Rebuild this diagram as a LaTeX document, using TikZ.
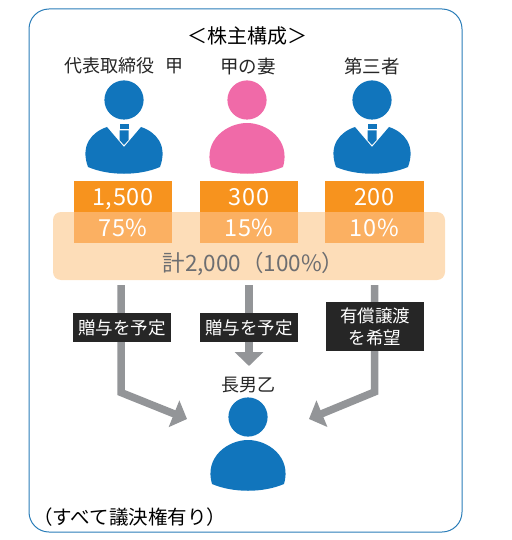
\documentclass[tikz,border=0pt]{standalone}
\usepackage{fontspec}
\setmainfont{Noto Sans CJK JP}
\usepackage{xcolor}
\usetikzlibrary{arrows.meta,positioning,calc}
\definecolor{framecol}{HTML}{2A7DB8}
\definecolor{personblue}{HTML}{1175BC}
\definecolor{personpink}{HTML}{F06AA8}
\definecolor{sharedark}{HTML}{F7931E}
\definecolor{sharelight}{HTML}{FBB062}
\definecolor{panelcol}{HTML}{FDDDB8}
\definecolor{arrowcol}{HTML}{939598}
\definecolor{totalcol}{HTML}{6D6E71}
\tikzset{
	namelabel/.style={font=\fontsize{18.5}{20}\selectfont,text=black!85,inner sep=0pt},
	sharebox/.style={minimum width=98pt,minimum height=31pt,inner sep=0pt,text=white,text height=17pt,text depth=0pt,font=\fontsize{23.5}{25}\selectfont\addfontfeature{LetterSpace=3}},
	notebox/.style={fill=black!85,text=white,minimum width=98pt,inner sep=0pt,align=center,font=\fontsize{17.5}{22}\selectfont},
	flowarrow/.style={draw=arrowcol,line width=7.5pt,-{Triangle[length=14pt,width=28pt]}},
	pics/plainperson/.style={code={
		\fill[#1] (0,0) circle (19.6);
		\fill[#1] (-36,67) .. controls (-44,40) and (-20,23) .. (0,23) .. controls (20,23) and (44,40) .. (36,67) .. controls (15,76) and (-15,76) .. (-36,67) -- cycle;
	}},
	pics/suitperson/.style={code={
		\fill[#1] (0,0) circle (19.6);
		\fill[#1] (-36,67) .. controls (-44,45) and (-32,32) .. (-17,27) -- (0,47) -- (17,27) .. controls (32,32) and (44,45) .. (36,67) .. controls (15,76) and (-15,76) .. (-36,67) -- cycle;
		\fill[#1] (-4.5,24) rectangle (4.5,29);
		\fill[#1] (-4.5,30.5) -- (4.5,30.5) -- (4.5,40) -- (0,45) -- (-4.5,40) -- cycle;
	}},
}

\begin{document}
\begin{tikzpicture}[x=1pt,y=-1pt]
	\useasboundingbox (0,0) rectangle (511,540);
	% outer frame
	\draw[framecol,line width=1pt,rounded corners=20pt] (29,9) rectangle (462,532);
	\node (title) at (247,36) {\fontsize{20}{22}\selectfont ＜株主構成＞};

	% shareholders
	\node[namelabel,font=\fontsize{18}{20}\selectfont] (nameA) at (124,66) {代表取締役\hspace{11pt}甲};
	\node[namelabel] (nameB) at (248,66) {甲の妻};
	\node[namelabel] (nameC) at (372,66) {第三者};
	\pic at (124,100) {suitperson=personblue};
	\pic at (247,100) {plainperson=personpink};
	\pic at (372,100) {suitperson=personblue};

	% share table
	\node[fill=panelcol,rounded corners=8pt,minimum width=392pt,minimum height=68pt,inner sep=0pt] (panel) at (249,246) {};
	\node[sharebox,fill=sharedark] (countA) at (123,196.5) {1,500};
	\node[sharebox,fill=sharedark] (countB) at (249,196.5) {300};
	\node[sharebox,fill=sharedark,minimum width=99pt] (countC) at (374.5,196.5) {200};
	\node[sharebox,fill=sharelight,below=0pt of countA] (rateA) {75\%};
	\node[sharebox,fill=sharelight,below=0pt of countB] (rateB) {15\%};
	\node[sharebox,fill=sharelight,minimum width=99pt,below=0pt of countC] (rateC) {10\%};
	\node[text=totalcol,font=\fontsize{22.5}{24}\selectfont,inner sep=0pt] (total) at (253.5,264) {計2,000（100\%）};

	% arrows
	\coordinate (startA) at (121,285);
	\coordinate (startB) at (249,285);
	\coordinate (startC) at (374.5,285);
	\coordinate (bendA) at (121,392.5);
	\coordinate (bendC) at (374.5,392);
	\coordinate (endA) at (187,419);
	\coordinate (endB) at (249,366);
	\coordinate (endC) at (309,419);
	\draw[flowarrow] (startA) -- (bendA) -- (endA);
	\draw[flowarrow] (startB) -- (endB);
	\draw[flowarrow] (startC) -- (bendC) -- (endC);
	\node[notebox,minimum height=29pt] (giftA) at (122,327.5) {贈与を予定};
	\node[notebox,minimum height=29pt] (giftB) at (249,327.5) {贈与を予定};
	\node[notebox,minimum height=49pt] (saleC) at (375,326.5) {有償譲渡\\を希望};

	% eldest son
	\node[namelabel,font=\fontsize{18}{20}\selectfont] (nameD) at (248,385) {長男乙};
	\pic at (248,417) {plainperson=personblue};
	\node[inner sep=0pt,anchor=west] (note) at (33,517) {\fontsize{19.5}{22}\selectfont （すべて議決権有り）};
\end{tikzpicture}
\end{document}
